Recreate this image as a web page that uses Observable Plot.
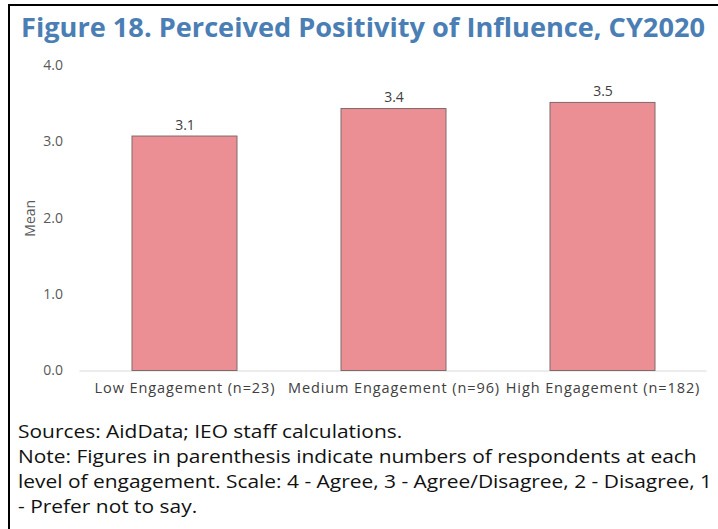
<!DOCTYPE html>
<html>
<head>
<meta charset="utf-8">
<script src="https://cdn.jsdelivr.net/npm/d3@7"></script>
<script src="https://cdn.jsdelivr.net/npm/@observablehq/plot@0.6"></script>
<style>
  html, body { margin: 0; padding: 0; background: #fff; }
  #wrap { position: relative; width: 718px; height: 529px; overflow: hidden; font-family: "Open Sans", sans-serif; }
  #frameL { position: absolute; left: 8px; top: 4px; width: 2px; height: 525px; background: #000; }
  #frameT { position: absolute; left: 8px; top: 4px; width: 710px; height: 2px; background: #000; }
  #title { position: absolute; left: 21px; top: 8px; white-space: nowrap; font-weight: 700; font-size: 27px; color: #4a7eb4; transform-origin: left top; }
  #chart { position: absolute; left: 0; top: 50px; }
  #chart g[aria-label="x-axis tick label"] { letter-spacing: 0.9px; }
  #caption { position: absolute; left: 18px; top: 419px; font-size: 18px; line-height: 25px; color: #111; white-space: nowrap; transform-origin: left top; }
</style>
</head>
<body>
<div id="wrap">
  <div id="frameL"></div>
  <div id="frameT"></div>
  <div id="title">Figure 18. Perceived Positivity of Influence, CY2020</div>
  <div id="chart"></div>
  <div id="caption">
    <div>Sources: AidData; IEO staff calculations.</div>
    <div>Note: Figures in parenthesis indicate numbers of respondents at each</div>
    <div id="line3">level of engagement. Scale: 4 - Agree, 3 - Agree/Disagree, 2 - Disagree, 1</div>
    <div>- Prefer not to say.</div>
  </div>
</div>
<script>
const categories = ["Low Engagement (n=23)", "Medium Engagement (n=96)", "High Engagement (n=182)"];
const means = [3.07, 3.43, 3.51];
const meanLabels = ["3.1", "3.4", "3.5"];
const yTicks = [0, 1, 2, 3, 4];

const data = categories.map((c, i) => ({category: c, mean: means[i], label: meanLabels[i]}));

const chart = Plot.plot({
  width: 718,
  height: 360,
  marginLeft: 79.5,
  marginRight: 11.5,
  marginTop: 15,
  marginBottom: 39.5,
  style: {fontFamily: "Open Sans, sans-serif", fontSize: "14px", color: "#595959", background: "transparent"},
  x: {domain: categories, paddingInner: 0.5, paddingOuter: 0.25},
  y: {domain: [0, 4]},
  marks: [
    Plot.axisX({tickSize: 0, tickPadding: 12, fontSize: 14.5, label: null, fill: "#404040"}),
    Plot.axisY({ticks: yTicks, tickFormat: d => d.toFixed(1), tickSize: 0, tickPadding: 17, fontSize: 14, fill: "#595959",
      label: "Mean", labelArrow: "none", labelAnchor: "center", labelOffset: 55}),
    Plot.ruleY([0], {stroke: "#d9d9d9", strokeWidth: 1}),
    Plot.barY(data, {x: "category", y: "mean", fill: "#ec8f95", stroke: "#7e6a6a", strokeWidth: 1}),
    Plot.text(data, {x: "category", y: "mean", text: "label", dy: -7, lineAnchor: "bottom", fill: "#404040", fontSize: 14})
  ]
});
document.getElementById("chart").appendChild(chart);

// fit title and caption to the reference widths
const t = document.getElementById("title");
t.style.transform = `scaleX(${684 / t.getBoundingClientRect().width})`;
const cap = document.getElementById("caption");
const l3 = document.getElementById("line3");
const r = document.createRange(); r.selectNodeContents(l3);
cap.style.transform = `scaleX(${694 / r.getBoundingClientRect().width})`;
</script>
</body>
</html>
